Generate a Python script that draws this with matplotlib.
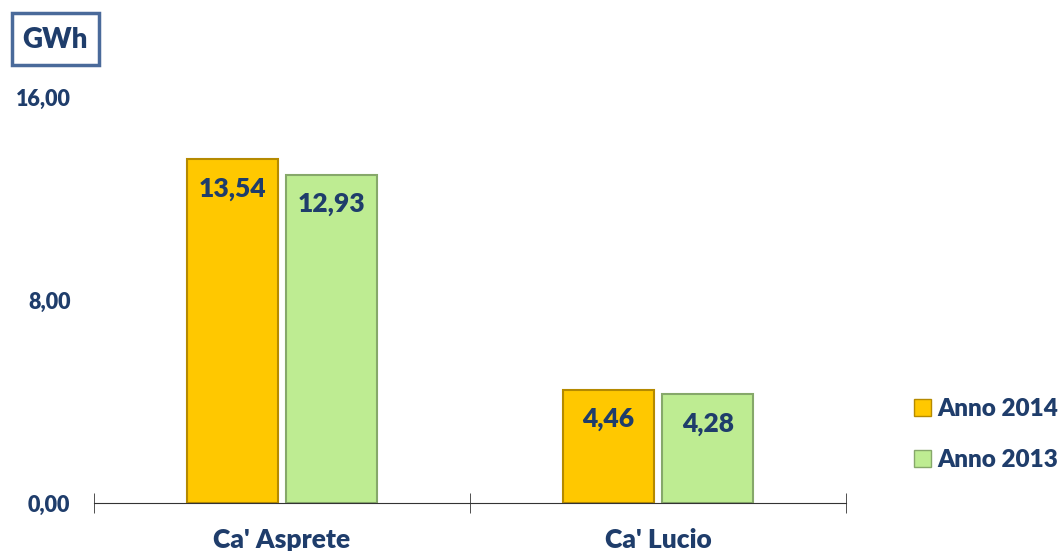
import matplotlib.pyplot as plt
import numpy as np
from matplotlib.patches import Rectangle, Patch

categories = ["Ca' Asprete", "Ca' Lucio"]
anno_2014 = [13.54, 4.46]
anno_2013 = [12.93, 4.28]
series_names = ["Anno 2014", "Anno 2013"]
yticks = [0, 8, 16]

navy = "#1F3D6B"
plt.rcParams['font.family'] = ['Lato', 'DejaVu Sans']

fig = plt.figure(figsize=(10.63, 5.51), dpi=100)
ax = fig.add_axes([94 / 1063, 48 / 551, 752 / 1063, 406 / 551])

x = np.arange(len(categories))
w = 0.242
off = 0.1325
b1 = ax.bar(x - off, anno_2014, w, color="#FFC800", edgecolor="#B58A00", linewidth=1.5)
b2 = ax.bar(x + off, anno_2013, w, color="#BEEC92", edgecolor="#86A86A", linewidth=1.5)

for bars in (b1, b2):
    for r in bars:
        ax.text(r.get_x() + r.get_width() / 2, r.get_height() - 1.15,
                f"{r.get_height():.2f}".replace(".", ","),
                ha="center", va="center", fontsize=19, fontweight="heavy", color=navy)

ax.set_xlim(-0.5, 1.5)
ax.set_ylim(0, 16)
ax.set_yticks(yticks)
ax.set_yticklabels([f"{v:.2f}".replace(".", ",") for v in yticks],
                   fontsize=15.5, fontweight="heavy", color=navy)
ax.tick_params(axis="y", length=0, pad=17)
ax.set_xticks([-0.5, 0.5, 1.5], minor=True)
ax.set_xticks(x)
ax.set_xticklabels(categories, fontsize=19, fontweight="heavy", color=navy)
ax.tick_params(axis="x", which="major", length=0, pad=18)
ax.tick_params(axis="x", which="minor", length=14, direction="inout", color="#333333")
for s in ["top", "right", "left"]:
    ax.spines[s].set_visible(False)
ax.spines["bottom"].set_color("#333333")

handles = [Patch(facecolor="#FFC800", edgecolor="#B58A00"),
           Patch(facecolor="#BEEC92", edgecolor="#86A86A")]
leg = fig.legend(handles, series_names, loc="center left", bbox_to_anchor=(0.839, 0.212),
                 frameon=False, prop={"size": 17.5, "weight": "heavy"},
                 handlelength=0.7, handleheight=0.7, handletextpad=0.25, labelspacing=1.2)
for t in leg.get_texts():
    t.set_color(navy)

fig.patches.append(Rectangle((12 / 1063, 1 - 65 / 551), 87 / 1063, 52 / 551,
                             transform=fig.transFigure, fill=False,
                             edgecolor="#4A6A9A", linewidth=2.5))
fig.text(55 / 1063, 1 - 40 / 551, "GWh", ha="center", va="center",
         fontsize=20, fontweight="heavy", color=navy)

fig.savefig("out.png", dpi=100)
